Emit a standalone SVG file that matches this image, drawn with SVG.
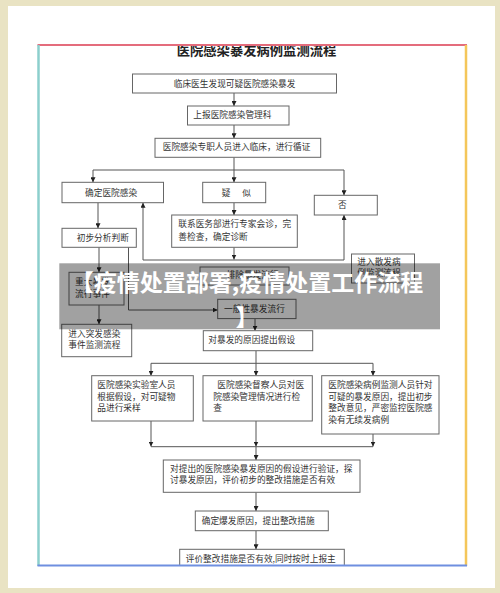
<svg xmlns="http://www.w3.org/2000/svg" width="500" height="593" viewBox="0 0 500 593">
<defs>
<style>
.bx{fill:#fff;stroke:#666;stroke-width:1}
.t{font-family:"Noto Sans CJK SC","Liberation Sans",sans-serif;font-size:8.7px;fill:#333}
.c{fill:none;stroke:#555;stroke-width:1}
.title{font-family:"Noto Sans CJK SC",sans-serif;font-size:13.3px;font-weight:bold;fill:#222}
.ov{font-family:"Noto Sans CJK SC",sans-serif;font-size:23px;font-weight:bold;fill:#fff}
</style>
<marker id="ah" viewBox="0 0 6 6" refX="6" refY="3" markerWidth="5" markerHeight="5" markerUnits="userSpaceOnUse" orient="auto">
<path d="M0,0 L6,3 L0,6 Z" fill="#222"/>
</marker>
<clipPath id="frame"><rect x="39" y="46" width="426" height="519"/></clipPath>
</defs>
<rect x="0" y="0" width="500" height="593" fill="#e9e3c3"/>
<rect x="8" y="6" width="487" height="582" fill="#fff"/>
<g clip-path="url(#frame)">
<text class="title" x="256.5" y="55" text-anchor="middle">医院感染暴发病例监测流程</text>
<g id="connectors">
<path class="c" d="M234,93 V106" marker-end="url(#ah)"/>
<path class="c" d="M234,125 V138.3" marker-end="url(#ah)"/>
<path class="c" d="M234,157.3 V182.3" marker-end="url(#ah)"/>
<path class="c" d="M234,170 H93 V182.3" marker-end="url(#ah)"/>
<path class="c" d="M234,170 H344 V195.3" marker-end="url(#ah)"/>
<path class="c" d="M234,202.7 V215" marker-end="url(#ah)"/>
<path class="c" d="M234,247.3 V259.5" marker-end="url(#ah)"/>
<path class="c" d="M234,260 H143 V202.7" marker-end="url(#ah)"/>
<path class="c" d="M234,260 H344 V215" marker-end="url(#ah)"/>
<path class="c" d="M98,202.7 V228.3" marker-end="url(#ah)"/>
<path class="c" d="M99,247.3 V272.3" marker-end="url(#ah)"/>
<path class="c" d="M128.5,247.3 V310 H217.7" marker-end="url(#ah)"/>
<path class="c" d="M99,305 V324.3" marker-end="url(#ah)"/>
<path class="c" d="M255,318.6 V330.7" marker-end="url(#ah)"/>
<path class="c" d="M256,350.7 V363.3 M151,363.3 H373"/>
<path class="c" d="M151,363.3 V375.7" marker-end="url(#ah)"/>
<path class="c" d="M256,363.3 V375.7" marker-end="url(#ah)"/>
<path class="c" d="M373,363.3 V375.7" marker-end="url(#ah)"/>
<path class="c" d="M151,421 V446.5" marker-end="url(#ah)"/>
<path class="c" d="M256,421 V446.5" marker-end="url(#ah)"/>
<path class="c" d="M373,434 V446.5" marker-end="url(#ah)"/>
<path class="c" d="M151,446.7 H373"/>
<path class="c" d="M256,446.7 V460" marker-end="url(#ah)"/>
<path class="c" d="M256,492.3 V511" marker-end="url(#ah)"/>
<path class="c" d="M256,530.7 V549.3" marker-end="url(#ah)"/>
</g>
<g id="n1"><rect class="bx" x="132.5" y="74" width="204" height="19"/><text class="t" x="234.5" y="86.7" text-anchor="middle">临床医生发现可疑医院感染暴发</text></g>
<g id="n2"><rect class="bx" x="187.5" y="106" width="101.5" height="19"/><text class="t" x="193.3" y="118.2">上报医院感染管理科</text></g>
<g id="n3"><rect class="bx" x="155" y="138.3" width="165.7" height="19"/><text class="t" x="162.7" y="149.9">医院感染专职人员进入临床，进行循证</text></g>
<g id="n4"><rect class="bx" x="62" y="182.3" width="101.5" height="20.4"/><text class="t" x="85" y="195.9">确定医院感染</text></g>
<g id="n5"><rect class="bx" x="202.7" y="182.3" width="63" height="20.4"/><text class="t" x="221.7" y="195.9">疑<tspan dx="11.9">似</tspan></text></g>
<g id="n6"><rect class="bx" x="314.3" y="195.3" width="63" height="19.7"/><text class="t" x="338" y="208.2">否</text></g>
<g id="n7"><rect class="bx" x="171.7" y="215" width="125.6" height="32.3"/><text class="t" x="178.3" y="226.7">联系医务部进行专家会诊，完</text><text class="t" x="178.3" y="239.7">善检查，确定诊断</text></g>
<g id="n8"><rect class="bx" x="62" y="228.3" width="74.3" height="19"/><text class="t" x="76.7" y="240.5">初步分析判断</text></g>
<g id="n9"><rect class="bx" x="351.5" y="254" width="63" height="29"/><text class="t" x="357.3" y="265">进入散发病</text><text class="t" x="357.3" y="276">例监测流程</text></g>
<g id="n10"><rect class="bx" x="200" y="267" width="89" height="18"/><text class="t" x="226.5" y="278.2">排除暴发流行</text></g>
<g id="n11"><rect class="bx" x="69" y="272.3" width="55" height="32.7"/><text class="t" x="75" y="284.9">重大暴发</text><text class="t" x="75" y="296.5">流行事件</text></g>
<g id="n12"><rect class="bx" x="217.7" y="299.3" width="78.3" height="19.3"/><text class="t" x="224" y="311.5">一般性暴发流行</text></g>
<g id="n13"><rect class="bx" x="61.7" y="324.3" width="70" height="32.4"/><text class="t" x="68.3" y="337.2">进入突发感染</text><text class="t" x="68.3" y="348.2">事件监测流程</text></g>
<g id="n14"><rect class="bx" x="203.3" y="330.7" width="109.4" height="20"/><text class="t" x="208.3" y="343.2">对暴发的原因提出假设</text></g>
<g id="n15"><rect class="bx" x="91.7" y="375.7" width="101.6" height="45.3"/><text class="t" x="97.3" y="388.2">医院感染实验室人员</text><text class="t" x="97.3" y="399.7">根据假设，对可疑物</text><text class="t" x="97.3" y="411.2">品进行采样</text></g>
<g id="n16"><rect class="bx" x="203" y="375.7" width="109.3" height="45.3"/><text class="t" x="217.3" y="388.2">医院感染督察人员对医</text><text class="t" x="213.3" y="399.7">院感染管理情况进行检</text><text class="t" x="213.3" y="411.2">查</text></g>
<g id="n17"><rect class="bx" x="321.7" y="375.7" width="117.3" height="58.3"/><text class="t" x="328.3" y="388.2">医院感染病例监测人员针对</text><text class="t" x="328.3" y="399.7">可疑的暴发原因，提出初步</text><text class="t" x="328.3" y="411.2">整改意见，严密监控医院感</text><text class="t" x="328.3" y="422.7">染有无续发病例</text></g>
<g id="n18"><rect class="bx" x="163.3" y="460" width="196.7" height="32.3"/><text class="t" x="170" y="471.5">对提出的医院感染暴发原因的假设进行验证，探</text><text class="t" x="170" y="483.2">讨暴发原因，评价初步的整改措施是否有效</text></g>
<g id="n19"><rect class="bx" x="195.3" y="511" width="133" height="19.7"/><text class="t" x="201.7" y="523.9">确定爆发原因，提出整改措施</text></g>
<g id="n20"><rect class="bx" x="179.7" y="549.3" width="164.6" height="30"/><text class="t" x="185.7" y="562.2">评价整改措施是否有效,同时按时上报主</text></g>
</g>
<line x1="37.5" y1="45" x2="467" y2="45" stroke="#e46c7c" stroke-width="2"/>
<line x1="38.5" y1="45" x2="38.5" y2="566" stroke="#8ccfcd" stroke-width="2.5"/>
<line x1="466" y1="45" x2="466" y2="566" stroke="#f4c65a" stroke-width="2.5"/>
<line x1="37.5" y1="565.5" x2="467" y2="565.5" stroke="#6f8fe0" stroke-width="2"/>
<g id="overlay">
<rect x="59.3" y="263.3" width="380.7" height="66" fill="#000" fill-opacity="0.37"/>
<text class="ov" x="247" y="290.5" text-anchor="middle">【疫情处置部署,疫情处置工作流程</text>
<text class="ov" x="247" y="326" text-anchor="middle">】</text>
</g>
</svg>
